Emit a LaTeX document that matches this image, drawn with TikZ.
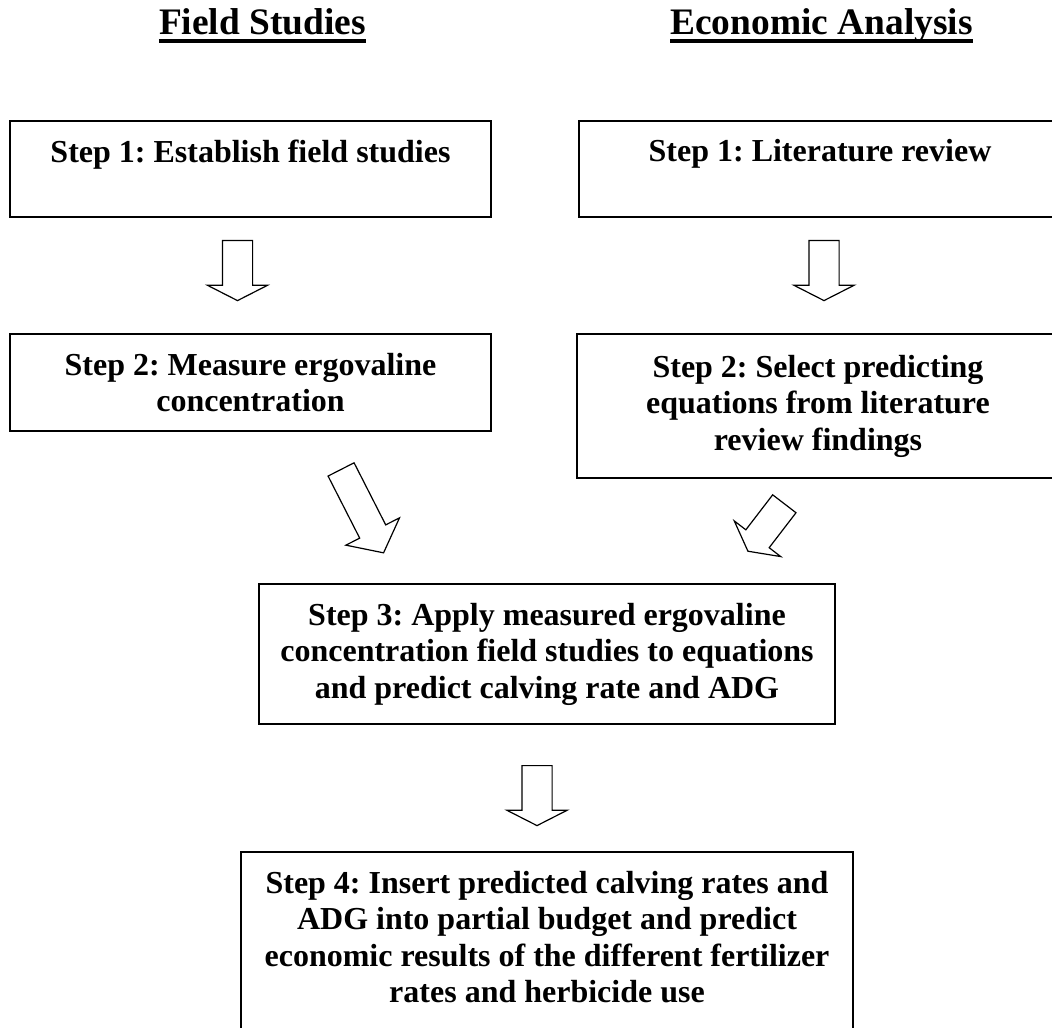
\documentclass[tikz,border=0pt]{standalone}
\usepackage{fontspec}
\setmainfont{Liberation Serif}
\usetikzlibrary{shapes.arrows}
\frenchspacing

\begin{document}
\begin{tikzpicture}[
  heading/.style={inner sep=0pt,anchor=base,font=\bfseries\fontsize{26.6}{30}\selectfont},
  stepbox/.style={draw,line width=0.05cm,align=center,inner sep=0pt,font=\bfseries\fontsize{22.76}{25.96}\selectfont},
  blockarrow/.style={draw,line width=0.03cm,single arrow,anchor=tail,inner xsep=0pt}]
\useasboundingbox (0,0) rectangle (26.3,-25.7);
\node[heading] (fs) at (6.5625,-0.875) {Field Studies};
\node[heading] (ea) at (20.5375,-0.875) {Economic Analysis};
\draw[line width=0.083cm] ([yshift=-0.15cm]fs.base west) -- ([yshift=-0.15cm]fs.base east);
\draw[line width=0.083cm] ([yshift=-0.15cm]ea.base west) -- ([yshift=-0.15cm]ea.base east);
\node[stepbox,minimum width=12.025cm,minimum height=2.4cm] (l1) at (6.2625,-4.225) {Step 1: Establish field studies\\\mbox{}};
\node[stepbox,minimum width=12.05cm,minimum height=2.4cm] (r1) at (20.5,-4.225) {Step 1: Literature review\\\mbox{}};
\node[stepbox,minimum width=12.025cm,minimum height=2.425cm] (l2) at (6.2625,-9.5625) {Step 2: Measure ergovaline\\concentration};
\node[stepbox,minimum width=12.05cm,minimum height=3.6cm] (r2) at (20.45,-10.15) {Step 2: Select predicting\\equations from literature\\review findings};
\node[stepbox,minimum width=14.4cm,minimum height=3.5cm] (s3) at (13.675,-16.35) {Step 3: Apply measured ergovaline\\concentration field studies to equations\\and predict calving rate and ADG};
\node[stepbox,minimum width=15.3cm,minimum height=5.15cm] (s4) at (13.675,-23.875) {Step 4: Insert predicted calving rates and\\ADG into partial budget and predict\\economic results of the different fertilizer\\rates and herbicide use\\\mbox{}};
\node[blockarrow,rotate=-90,minimum height=1.5cm,inner ysep=0.3625cm,single arrow head extend=0.375cm,single arrow tip angle=126] (a1) at (5.9375,-6.0) {};
\node[blockarrow,rotate=-90,minimum height=1.5cm,inner ysep=0.3625cm,single arrow head extend=0.375cm,single arrow tip angle=126] (a2) at (20.6,-6.0) {};
\node[blockarrow,rotate=-63,minimum height=2.34cm,inner ysep=0.35cm,single arrow head extend=0.3875cm,single arrow tip angle=103] (d1) at (8.52,-11.7225) {};
\node[blockarrow,rotate=-127.5,minimum height=1.495cm,inner ysep=0.3525cm,single arrow head extend=0.365cm,single arrow tip angle=123.6] (d2) at (19.6175,-12.5825) {};
\node[blockarrow,rotate=-90,minimum height=1.5cm,inner ysep=0.3625cm,single arrow head extend=0.375cm,single arrow tip angle=126] (a3) at (13.425,-19.125) {};
\end{tikzpicture}
\end{document}
